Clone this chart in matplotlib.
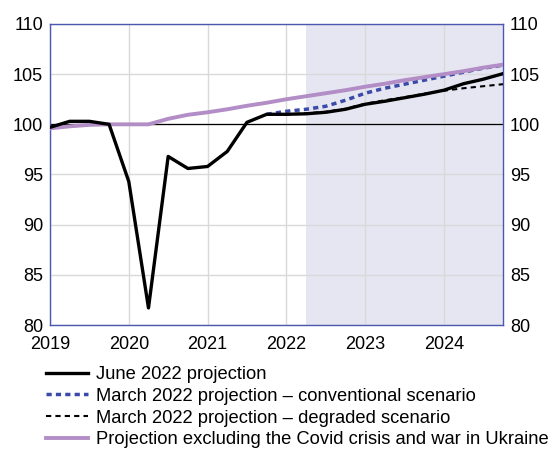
import matplotlib.pyplot as plt

plt.rcParams['font.family'] = ['Liberation Sans', 'DejaVu Sans']

# quarterly, 2019Q1 .. 2024Q4
years = ['2019', '2020', '2021', '2022', '2023', '2024']
quarters = list(range(24))

june_2022 = [99.7, 100.3, 100.3, 100.0, 94.3, 81.7, 96.8, 95.6, 95.8, 97.3, 100.2, 101.0,
             101.0, 101.05, 101.2, 101.5, 102.0, 102.3, 102.65, 103.0, 103.4, 104.05, 104.5, 105.05]

march_conv_q = list(range(11, 24))
march_conv = [101.0, 101.3, 101.5, 101.8, 102.4, 103.1, 103.6, 104.0, 104.4,
              104.8, 105.2, 105.6, 105.9]

march_degr_q = list(range(11, 24))
march_degr = [101.0, 101.0, 101.1, 101.25, 101.55, 102.05, 102.4, 102.7, 103.05,
              103.35, 103.6, 103.8, 104.0]

no_covid = [99.6, 99.8, 99.95, 100.0, 100.0, 100.0, 100.55, 100.95, 101.2, 101.5, 101.85, 102.15,
            102.5, 102.8, 103.1, 103.4, 103.75, 104.05, 104.4, 104.7, 105.0, 105.3, 105.65, 105.95]

projection_start = 13  # 2022Q2

fig = plt.figure(figsize=(5.55, 4.51), dpi=100)
ax = fig.add_axes([50/555, 1 - 325/451, 453/555, 301/451])

ax.axvspan(projection_start, 23, color='#e6e6f2', lw=0, zorder=0)
ax.grid(True, color='#d9d9d9', lw=1, zorder=1)
ax.axhline(100, color='black', lw=0.9, zorder=2)

ax.plot(march_conv_q, march_conv, color='#3a4aa8', lw=2.5, ls=(0, (1.5, 1.2)), zorder=3,
        label='March 2022 projection – conventional scenario')
ax.plot(march_degr_q, march_degr, color='black', lw=1.5, ls=(0, (2.5, 2)), zorder=3,
        label='March 2022 projection – degraded scenario')
ax.plot(quarters, no_covid, color='#b28dc6', lw=2.8, zorder=4,
        label='Projection excluding the Covid crisis and war in Ukraine')
ax.plot(quarters, june_2022, color='black', lw=2.4, zorder=5, label='June 2022 projection')

ax.set_xlim(0, 23)
ax.set_ylim(80, 110)
ax.set_xticks(range(0, 24, 4))
ax.set_xticklabels(years)
ax.set_yticks(range(80, 111, 5))
ax.tick_params(length=0, labelsize=13, labelright=True, pad=5)
ax.tick_params(axis='x', pad=8)
for s in ax.spines.values():
    s.set_color('#4a58b0')
    s.set_linewidth(1)

handles, labels = ax.get_legend_handles_labels()
order = [3, 0, 1, 2]
fig.legend([handles[i] for i in order], [labels[i] for i in order],
           loc='upper left', bbox_to_anchor=(46/555, 1 - 366/451), frameon=False,
           fontsize=13.2, handlelength=2.3, handletextpad=0.4, labelspacing=0.26,
           borderpad=0, borderaxespad=0)

fig.savefig('out.png', dpi=100)
